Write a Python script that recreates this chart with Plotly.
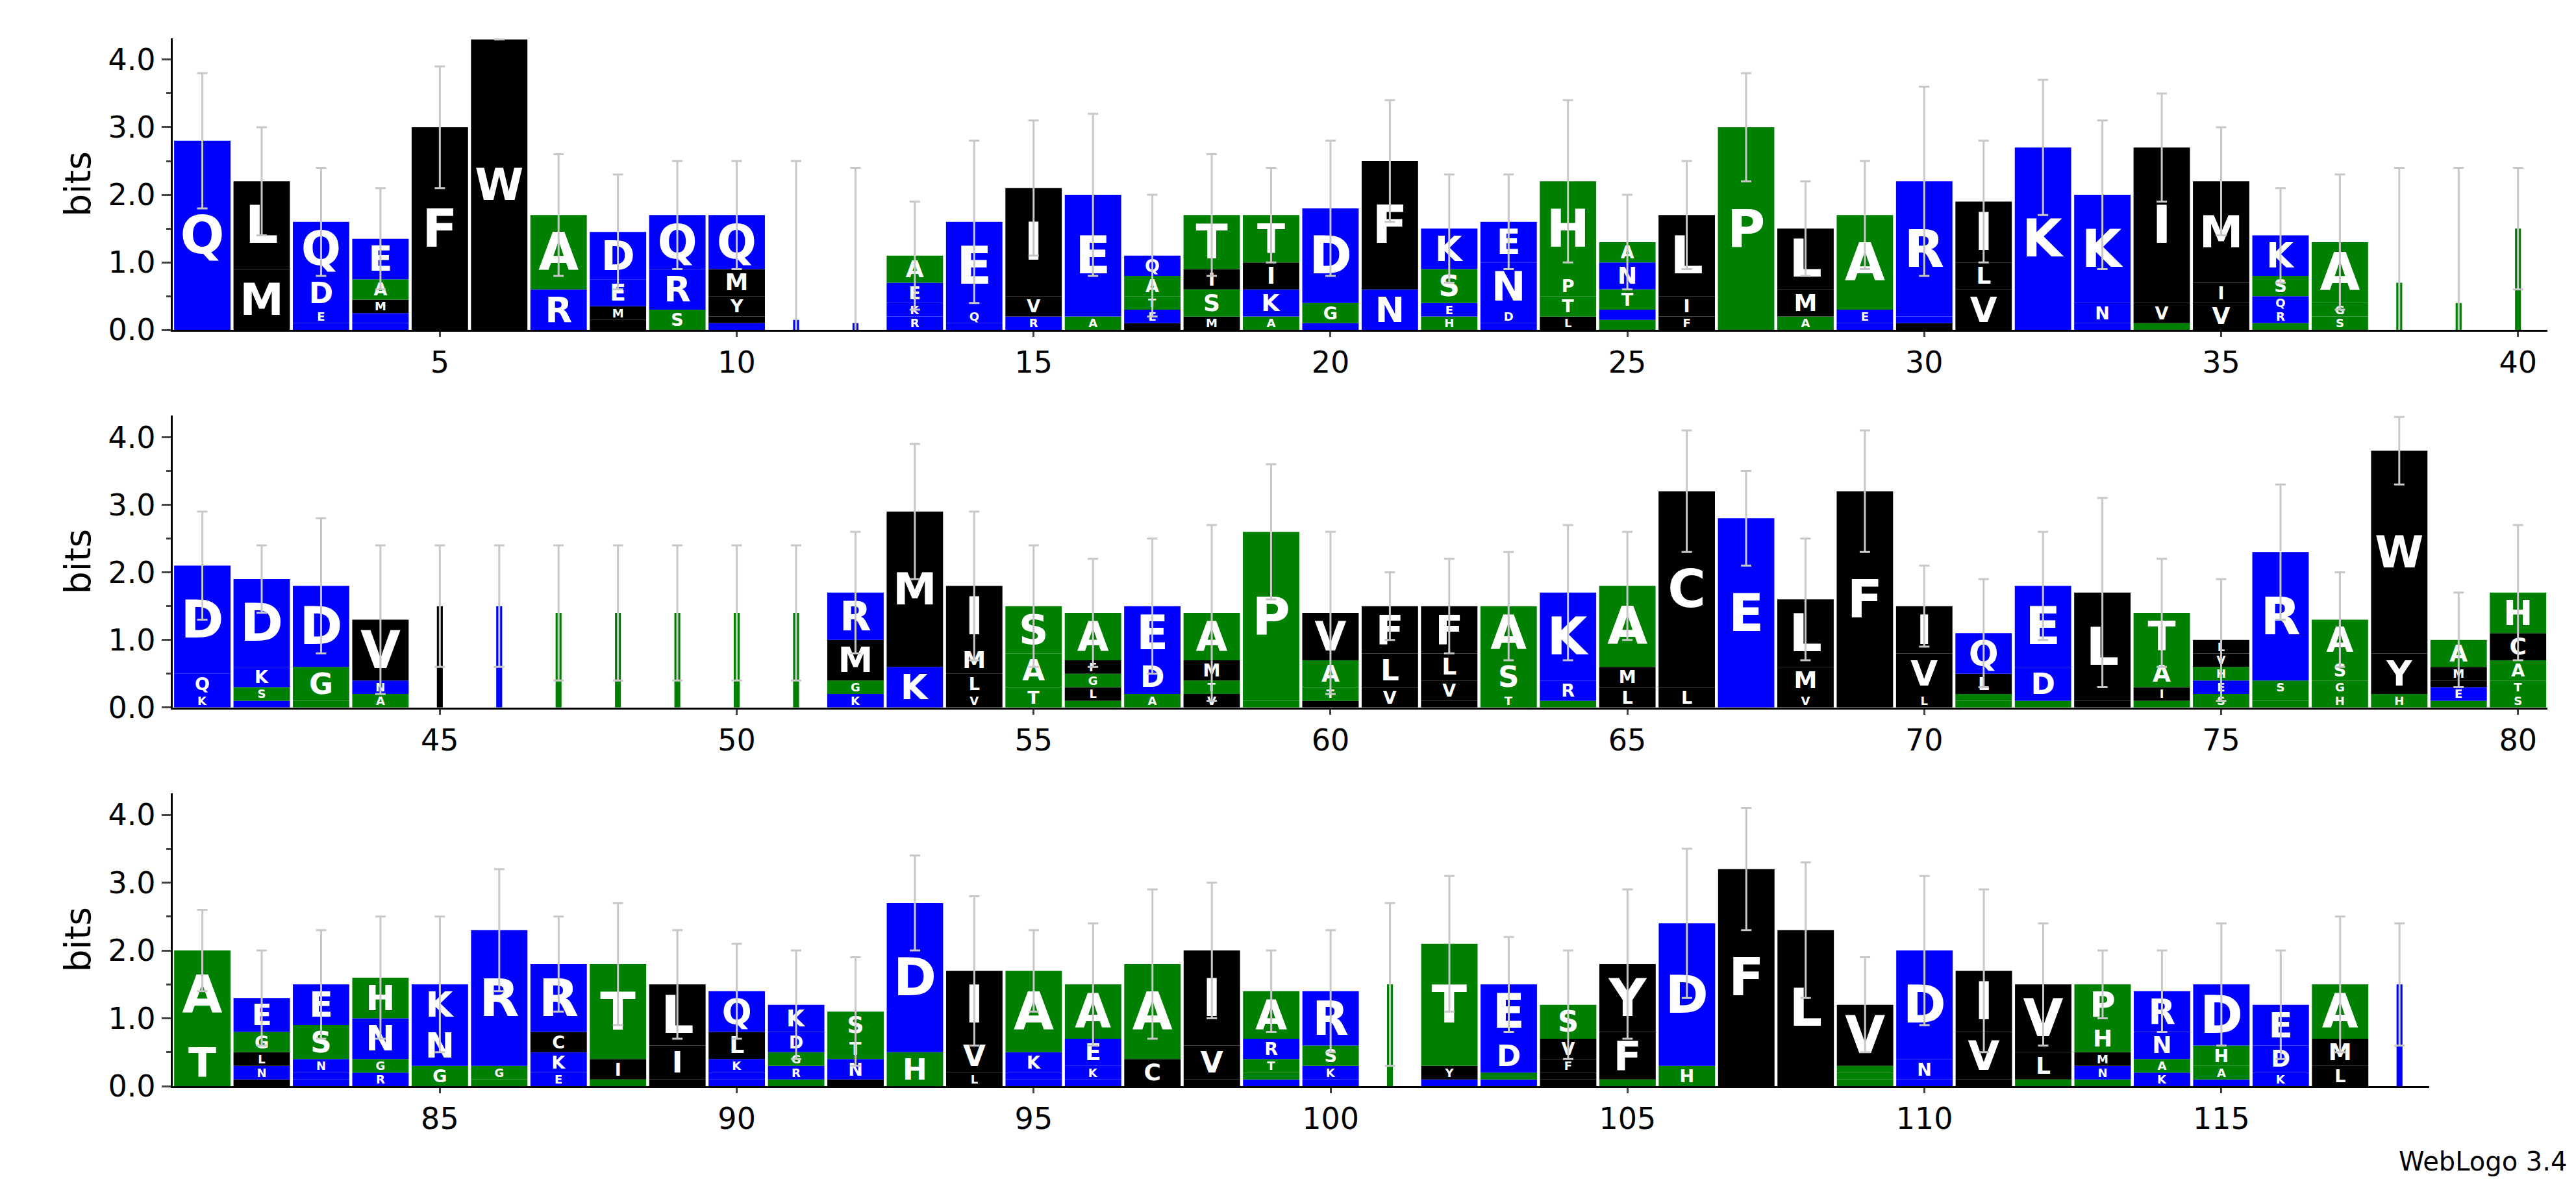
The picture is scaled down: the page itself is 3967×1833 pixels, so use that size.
import plotly.graph_objects as go
from plotly.subplots import make_subplots

# letter stacks per position, listed top -> bottom: "LETTER:height"
row1_stacks = [
    "Q:2.8", "L:1.3 M:0.9", "Q:0.8 D:0.5 E:0.2 R:0.1", "E:0.6 A:0.3 M:0.2 K:0.15 R:0.1",
    "F:3.0", "W:4.3", "A:1.1 R:0.6", "D:0.7 E:0.4 M:0.2 Y:0.15", "Q:0.8 R:0.6 S:0.3",
    "Q:0.8 M:0.4 Y:0.3 L:0.1 R:0.1", "K:0.15", "K:0.1", "A:0.4 E:0.3 K:0.2 R:0.2",
    "E:1.3 Q:0.2 D:0.1", "I:1.6 V:0.3 R:0.2", "E:1.8 A:0.2", "Q:0.3 A:0.3 T:0.2 E:0.2 M:0.1",
    "T:0.8 I:0.3 S:0.4 M:0.2", "T:0.7 I:0.4 K:0.4 A:0.2", "D:1.4 G:0.3 E:0.1", "F:1.9 N:0.6",
    "K:0.6 S:0.5 E:0.2 H:0.2", "E:0.6 N:0.7 D:0.2 R:0.1", "H:1.4 P:0.3 T:0.3 L:0.2",
    "A:0.3 N:0.4 T:0.3 E:0.15 S:0.15", "L:1.2 I:0.3 F:0.2", "P:3.0", "L:0.9 M:0.4 A:0.2",
    "A:1.4 E:0.2 D:0.1", "R:2.0 Q:0.1 C:0.1", "I:0.9 L:0.4 V:0.6", "K:2.7", "K:1.6 N:0.3 R:0.1",
    "I:2.3 V:0.3 A:0.1", "M:1.5 I:0.3 V:0.4", "K:0.6 S:0.3 Q:0.2 R:0.2 H:0.1",
    "A:0.9 G:0.2 S:0.2", "A:0.7", "S:0.4", "A:1.5",
]
row1_err = [3.8, 3.0, 2.4, 2.1, 3.9, 4.3, 2.6, 2.3, 2.5, 2.5, 2.5, 2.4, 1.9, 2.8, 3.1, 3.2,
            2.0, 2.6, 2.4, 2.8, 3.4, 2.3, 2.3, 3.4, 2.0, 2.5, 3.8, 2.2, 2.5, 3.6, 2.8, 3.7,
            3.1, 3.5, 3.0, 2.1, 2.3, 2.4, 2.4, 2.4]

row2_stacks = [
    "D:1.6 Q:0.3 K:0.2", "D:1.3 K:0.3 S:0.2 E:0.1", "D:1.2 G:0.5 S:0.1", "V:0.9 N:0.2 A:0.2",
    "I:1.5", "K:1.5", "G:1.4", "G:1.4", "G:1.4", "G:1.4", "G:1.4",
    "R:0.7 M:0.6 G:0.2 K:0.2", "M:2.3 K:0.6", "I:0.9 M:0.4 L:0.3 V:0.2", "S:0.7 A:0.5 T:0.3",
    "A:0.7 F:0.2 G:0.2 L:0.2 S:0.1", "E:0.8 D:0.5 A:0.2", "A:0.7 M:0.3 T:0.2 V:0.2", "P:2.5 A:0.1",
    "V:0.7 A:0.4 T:0.2 I:0.1", "F:0.7 L:0.5 V:0.3", "F:0.7 L:0.4 V:0.3 I:0.1", "A:0.8 S:0.5 T:0.2",
    "K:1.3 R:0.3 A:0.1", "A:1.2 M:0.3 L:0.3", "C:2.9 L:0.3", "E:2.8", "L:1.0 M:0.4 V:0.2",
    "F:3.2", "I:0.7 V:0.6 L:0.2", "Q:0.6 L:0.3 A:0.1 S:0.1", "E:1.2 D:0.5 S:0.1", "L:1.6 M:0.1",
    "T:0.7 A:0.4 I:0.2 G:0.1", "L:0.2 V:0.2 H:0.2 E:0.2 S:0.2", "R:1.9 S:0.2 G:0.1 H:0.1",
    "A:0.6 S:0.3 G:0.2 H:0.2", "W:3.0 Y:0.6 H:0.2", "A:0.4 M:0.2 V:0.1 E:0.2 S:0.1",
    "H:0.6 C:0.4 A:0.3 T:0.2 S:0.2",
]
row2_err = [2.9, 2.4, 2.8, 2.4, 2.4, 2.4, 2.4, 2.4, 2.4, 2.4, 2.4, 2.6, 3.9, 2.9, 2.4, 2.2,
            2.5, 2.7, 3.6, 2.6, 2.0, 2.2, 2.3, 2.7, 2.6, 4.1, 3.5, 2.5, 4.1, 2.1, 1.9, 2.6,
            3.1, 2.2, 1.9, 3.3, 2.0, 4.3, 1.7, 2.7]

row3_stacks = [
    "A:1.3 T:0.7", "E:0.5 G:0.3 L:0.2 N:0.2 V:0.1", "E:0.6 S:0.5 N:0.2 Q:0.1 R:0.1",
    "H:0.6 N:0.6 G:0.2 R:0.2", "K:0.6 N:0.6 G:0.3", "R:2.0 G:0.2 A:0.1", "R:1.0 C:0.3 K:0.3 E:0.2",
    "T:1.4 I:0.3 A:0.1", "L:0.9 I:0.5 V:0.1", "Q:0.6 L:0.4 K:0.2 D:0.1 N:0.1",
    "K:0.4 D:0.3 G:0.2 R:0.2 S:0.1", "S:0.4 T:0.3 N:0.3 V:0.1", "D:2.2 H:0.5", "I:1.0 V:0.5 L:0.2",
    "A:1.2 K:0.3 Q:0.1 R:0.1", "A:0.8 E:0.4 K:0.2 Q:0.1", "A:1.4 C:0.4", "I:1.4 V:0.5 L:0.1",
    "A:0.7 R:0.3 T:0.2 S:0.1 E:0.1", "R:0.8 S:0.3 K:0.2 E:0.1", "G:1.5", "T:1.8 Y:0.2 R:0.1",
    "E:0.8 D:0.5 S:0.1 N:0.1", "S:0.5 V:0.3 F:0.2 M:0.1 I:0.1", "Y:1.0 F:0.7 A:0.1", "D:2.1 H:0.3",
    "F:3.2", "L:2.3", "V:0.9 A:0.1 S:0.1 T:0.1", "D:1.6 N:0.3 E:0.1", "I:0.9 V:0.7 C:0.1",
    "V:1.0 L:0.4 A:0.1", "P:0.6 H:0.4 M:0.2 N:0.2 S:0.1", "R:0.6 N:0.4 A:0.2 K:0.2",
    "D:0.9 H:0.3 A:0.2 E:0.1", "E:0.6 D:0.4 K:0.2", "A:0.8 M:0.4 L:0.3", "K:1.5",
]
row3_err = [2.6, 2.0, 2.3, 2.5, 2.5, 3.2, 2.5, 2.7, 2.3, 2.1, 2.0, 1.9, 3.4, 2.8, 2.3, 2.4,
            2.9, 3.0, 2.0, 2.3, 2.7, 3.1, 2.2, 2.0, 2.9, 3.5, 4.1, 3.3, 1.9, 3.1, 2.9, 2.4,
            2.0, 2.0, 2.4, 2.0, 2.5, 2.4]

# narrow columns (mostly gaps)
narrow_positions = [11, 12, 38, 39, 40, 45, 46, 47, 48, 49, 50, 51, 101, 118]

blue = "#0000ff"
green = "#008000"
black = "#000000"
colors = {}
for c in "QEDRKN":
    colors[c] = blue
for c in "ASTGHP":
    colors[c] = green
for c in "LFWMYIVC":
    colors[c] = black

rows = [(1, row1_stacks, row1_err), (41, row2_stacks, row2_err), (81, row3_stacks, row3_err)]

px_per_bit = 0.25 * 1833 / 4.32

fig = make_subplots(rows=3, cols=1)

for r, (start, stacks, errs) in enumerate(rows, start=1):
    xs, ys, bases, cols, texts, widths, sizes = [], [], [], [], [], [], []
    tops = []
    for i, stack in enumerate(stacks):
        pos = start + i
        items = [s.split(":") for s in stack.split()]
        items = [(a, float(b)) for a, b in items][::-1]  # bottom -> top
        w = 0.1 if pos in narrow_positions else 0.95
        base = 0.0
        for letter, h in items:
            cap = 68 if letter in "WM" else 80
            size = min(h * px_per_bit * 0.85, cap)
            xs.append(pos)
            ys.append(h)
            bases.append(base)
            cols.append(colors[letter])
            texts.append(letter if (w > 0.5 and size >= 18) else "")
            sizes.append(max(size, 1))
            widths.append(w)
            base += h
        tops.append(base)
    fig.add_trace(go.Bar(
        x=xs, y=ys, base=bases, width=widths,
        marker=dict(color=cols, line=dict(width=0)),
        text=texts, textposition="inside", insidetextanchor="middle",
        constraintext="none", textangle=0,
        textfont=dict(family="DejaVu Sans", color="white", size=sizes, weight="bold"),
        showlegend=False, hoverinfo="skip"
    ), row=r, col=1)
    positions = list(range(start, start + len(stacks)))
    fig.add_trace(go.Scatter(
        x=positions, y=tops, mode="markers",
        marker=dict(size=1, color="rgba(0,0,0,0)"),
        error_y=dict(type="data", array=[e - t for e, t in zip(errs, tops)],
                     color="#c8c8c8", thickness=3, width=8),
        showlegend=False, hoverinfo="skip"
    ), row=r, col=1)

fig.update_layout(
    width=3967, height=1833,
    plot_bgcolor="white", paper_bgcolor="white",
    barmode="overlay",
    margin=dict(l=0, r=0, t=0, b=0),
    font=dict(family="DejaVu Sans", size=46, color="black"),
)

x_ranges = [[0.5, 40.5], [40.5, 80.5], [80.5, 118.5]]
x_domains = [[0.065, 0.987], [0.065, 0.987], [0.065, 0.941]]
y_domains = [[0.723, 0.972], [0.401, 0.650], [0.078, 0.328]]
for r in range(3):
    fig.update_xaxes(range=x_ranges[r], domain=x_domains[r], dtick=5, tick0=0,
                     showline=True, linecolor="black", linewidth=3, ticks="outside",
                     ticklen=8, tickwidth=3, showgrid=False, zeroline=False, row=r + 1, col=1)
    fig.update_yaxes(range=[0, 4.32], domain=y_domains[r], dtick=1, tickformat=".1f",
                     showline=True, linecolor="black", linewidth=3, ticks="outside",
                     ticklen=14, tickwidth=3, minor=dict(dtick=0.5, ticks="outside", ticklen=7, tickwidth=3),
                     showgrid=False, zeroline=False, title_text="bits", title_standoff=10,
                     row=r + 1, col=1)

fig.add_annotation(text="WebLogo 3.4", xref="paper", yref="paper", x=0.995, y=0.0,
                   xanchor="right", yanchor="bottom", showarrow=False, font=dict(size=40))

fig.write_html("out.html")
